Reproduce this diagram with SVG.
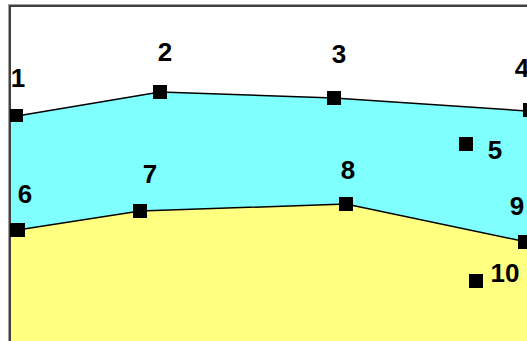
<svg xmlns="http://www.w3.org/2000/svg" width="527" height="341" viewBox="0 0 527 341">
<style>
.pt { fill: #000000; }
.lbl { font-family: "Liberation Sans", Arial, sans-serif; font-weight: bold; font-size: 26px; fill: #000000; text-anchor: middle; }
.edge { fill: none; stroke: #000000; stroke-width: 1.5; }
.cyan { fill: #80ffff; }
.yellow { fill: #ffff80; }
</style>
<rect x="0" y="0" width="527" height="341" fill="#ffffff"/>
<g id="regions">
<path class="cyan" d="M11,117 L160,92 L334,98 L527,111 L527,242 L346,204 L140,211 L11,231 Z"/>
<path class="yellow" d="M11,231 L140,211 L346,204 L527,242 L527,341 L11,341 Z"/>
</g>
<g id="frame">
<rect x="8" y="4" width="519" height="1" fill="#a0a0a0"/>
<rect x="10" y="5" width="517" height="2" fill="#404040"/>
<rect x="8" y="4" width="1" height="337" fill="#a0a0a0"/>
<rect x="9" y="5" width="2" height="336" fill="#404040"/>
</g>
<g id="connectors">
<polyline class="edge" points="11,117 160,92 334,98 527,111"/>
<polyline class="edge" points="11,231 140,211 346,204 527,242"/>
</g>
<g id="node1"><rect class="pt" x="10" y="109" width="13" height="13"/><text class="lbl" x="18" y="87">1</text></g>
<g id="node2"><rect class="pt" x="153" y="85" width="14" height="14"/><text class="lbl" x="165" y="61">2</text></g>
<g id="node3"><rect class="pt" x="327" y="91" width="14" height="14"/><text class="lbl" x="339" y="63">3</text></g>
<g id="node4"><rect class="pt" x="523" y="103" width="14" height="14"/><text class="lbl" x="522" y="77">4</text></g>
<g id="node5"><rect class="pt" x="459" y="137" width="14" height="14"/><text class="lbl" x="495" y="159">5</text></g>
<g id="node6"><rect class="pt" x="10" y="223" width="15" height="14"/><text class="lbl" x="25" y="203">6</text></g>
<g id="node7"><rect class="pt" x="133" y="204" width="14" height="14"/><text class="lbl" x="150" y="183">7</text></g>
<g id="node8"><rect class="pt" x="339" y="197" width="14" height="14"/><text class="lbl" x="348" y="179">8</text></g>
<g id="node9"><rect class="pt" x="518" y="235" width="14" height="14"/><text class="lbl" x="517" y="215">9</text></g>
<g id="node10"><rect class="pt" x="469" y="274" width="14" height="14"/><text class="lbl" x="505" y="282">10</text></g>
</svg>
